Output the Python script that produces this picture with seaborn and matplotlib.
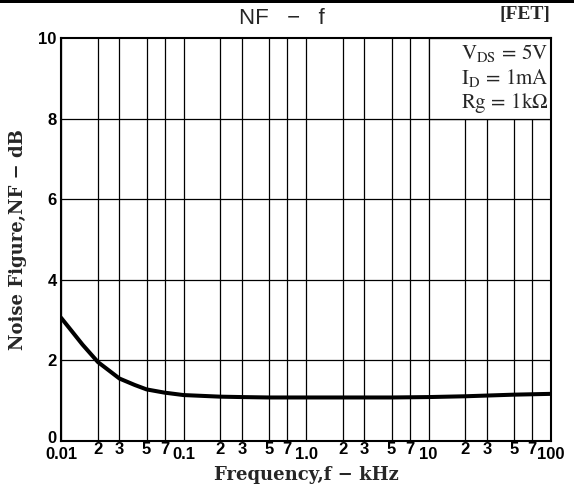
import numpy as np
import pandas as pd
import matplotlib
matplotlib.use("Agg")
import matplotlib.pyplot as plt
import matplotlib.transforms as mtransforms
import seaborn as sns
from matplotlib.patches import Rectangle

# data
freq_khz = [0.01, 0.012, 0.015, 0.02, 0.03, 0.04, 0.05, 0.07, 0.1, 0.2, 0.3, 0.5,
            1.0, 2.0, 5.0, 10.0, 20.0, 50.0, 100.0]
nf_db = [3.06, 2.76, 2.39, 1.96, 1.55, 1.39, 1.28, 1.20, 1.14, 1.10, 1.09, 1.08,
         1.08, 1.08, 1.08, 1.09, 1.11, 1.15, 1.17]

x_ticks = [0.01, 0.02, 0.03, 0.05, 0.07, 0.1, 0.2, 0.3, 0.5, 0.7, 1.0, 2, 3, 5, 7, 10, 20, 30, 50, 70, 100]
x_labels = ["0.01", "2", "3", "5", "7", "0.1", "2", "3", "5", "7", "1.0", "2", "3", "5", "7",
            "10", "2", "3", "5", "7", "100"]
y_ticks = [0, 2, 4, 6, 8, 10]
conditions = [r"$\mathrm{V_{DS}\,=\,5V}$", r"$\mathrm{I_D\,=\,1mA}$", r"$\mathrm{Rg\,=\,1k\Omega}$"]

sns.set_theme(style="white")
plt.rcParams["font.family"] = ["Liberation Sans", "DejaVu Sans"]
plt.rcParams["mathtext.fontset"] = "stix"

df = pd.DataFrame({"f": freq_khz, "nf": nf_db})

fig = plt.figure(figsize=(5.74, 4.95), dpi=100)
ax = fig.add_axes([61 / 574, 1 - 441 / 495, 490 / 574, 403 / 495])

# grid lines (only 1,2,3,5,7 per decade)
for xt in x_ticks:
    ax.axvline(xt, color="black", lw=0.9, zorder=1)
for yt in y_ticks[1:-1]:
    ax.axhline(yt, color="black", lw=0.9, zorder=1)

sns.lineplot(data=df, x="f", y="nf", color="black", lw=2.9, ax=ax, zorder=3)

ax.set_xscale("log")
ax.set_xlim(0.01, 100)
ax.set_ylim(0, 10)
ax.set_xticks(x_ticks)
ax.set_xticklabels(x_labels)
ax.minorticks_off()
ax.set_yticks(y_ticks)
ax.tick_params(axis="both", length=0, labelsize=12, colors="black")
ax.tick_params(axis="x", pad=1)
ax.tick_params(axis="y", pad=3)
for lab in ax.get_xticklabels() + ax.get_yticklabels():
    lab.set_fontweight("bold")
for lab in ax.get_xticklabels():
    if lab.get_text() in ("0.01", "0.1", "1.0", "10", "100"):
        lab.set_y(-0.012)

# lift the "0" so it clears the 0.01 label
zero_lab = ax.get_yticklabels()[0]
zero_lab.set_transform(zero_lab.get_transform() +
                       mtransforms.ScaledTranslation(0, 4 / 100, fig.dpi_scale_trans))

for sp in ax.spines.values():
    sp.set_color("black")
    sp.set_linewidth(1.5)

# white box for the conditions in the top right corner
ax.add_patch(Rectangle((10, 8), 90, 2, facecolor="white", edgecolor="black", lw=0.9, zorder=2))
ax.text(0.995, 0.99, "\n".join(conditions), transform=ax.transAxes, ha="right", va="top",
        fontsize=15, linespacing=1.15, zorder=4)

ax.set_xlabel("Frequency,f − kHz", family="DejaVu Serif", fontweight="bold", fontsize=13, labelpad=3)
ax.set_ylabel("Noise Figure,NF − dB", family="DejaVu Serif", fontweight="bold", fontsize=13, labelpad=8)

fig.text(282 / 574, 1 - 19 / 495, "NF   −   f", ha="center", va="center", fontsize=16)
fig.text(550 / 574, 1 - 14 / 495, "[FET]", ha="right", va="center", family="Liberation Serif",
         fontweight="bold", fontsize=14)

# heavy rule along the top edge
fig.add_artist(Rectangle((0, 1 - 3 / 495), 1, 3 / 495, transform=fig.transFigure,
                         facecolor="black", edgecolor="none"))

fig.savefig("out.png", dpi=100)
